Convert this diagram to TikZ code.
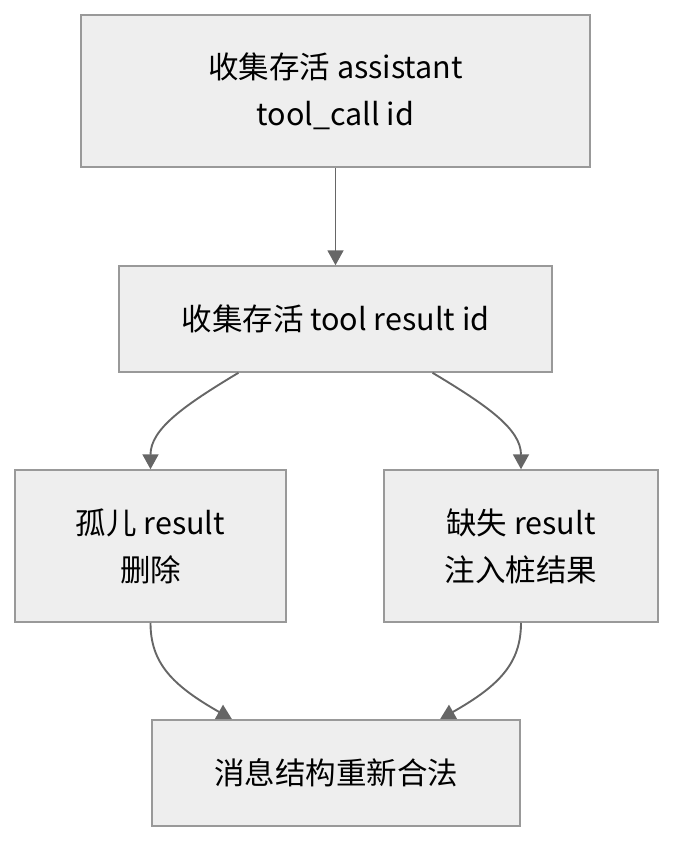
\documentclass[tikz,border=0pt]{standalone}
\usepackage{fontspec}
\setmainfont{Noto Sans CJK SC}
\usetikzlibrary{arrows.meta}
\definecolor{boxfill}{HTML}{EEEEEE}
\definecolor{boxline}{HTML}{999999}
\definecolor{edgecol}{HTML}{666666}
\tikzset{
  flowbox/.style={draw=boxline, fill=boxfill, line width=1.5pt, inner sep=0pt,
    align=center, font=\fontsize{30.5}{47}\selectfont, text=black},
  flowedge/.style={draw=edgecol, line width=1.9pt, -{Triangle[width=16pt,length=15pt]}}
}
\begin{document}
\begin{tikzpicture}[x=1pt,y=-1pt]
\useasboundingbox (0,0) rectangle (690,860);
\node[flowbox, minimum width=509pt, minimum height=152pt] (b1) at (335.5,91) {收集存活 assistant\\tool\_call id};
\node[flowbox, minimum width=433pt, minimum height=106pt] (b2) at (335.5,319) {收集存活 tool result id};
\node[flowbox, minimum width=271pt, minimum height=152pt] (b3) at (150.5,546) {孤儿 result\\删除};
\node[flowbox, minimum width=274pt, minimum height=152pt] (b4) at (521,546) {缺失 result\\注入桩结果};
\node[flowbox, minimum width=368pt, minimum height=106pt] (b5) at (336,773) {消息结构重新合法};
\draw[flowedge] (b1.south) -- (b2.north);
\draw[flowedge] ([xshift=-97pt]b2.south) .. controls +(-55,33) and +(0,-40) .. (b3.north);
\draw[flowedge] ([xshift=97pt]b2.south) .. controls +(55,33) and +(0,-40) .. (b4.north);
\draw[flowedge] (b3.south) .. controls +(0,40) and +(-60,-34) .. ([xshift=-104pt]b5.north);
\draw[flowedge] (b4.south) .. controls +(0,40) and +(60,-34) .. ([xshift=104pt]b5.north);
\end{tikzpicture}
\end{document}
